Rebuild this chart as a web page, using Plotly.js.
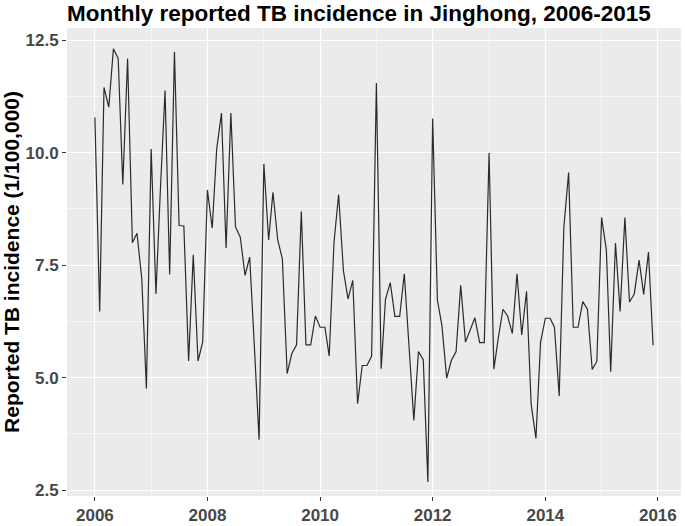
<!DOCTYPE html>
<html>
<head>
<meta charset="utf-8">
<script src="https://cdn.plot.ly/plotly-3.0.1.min.js"></script>
<style>
  html, body { margin: 0; padding: 0; background: #ffffff; }
  #chart { width: 685px; height: 526px; }
</style>
</head>
<body>
<div id="chart"></div>
<script>
// Monthly reported TB incidence (1/100,000), Jinghong, Jan 2006 - Dec 2015
const years = [2006, 2007, 2008, 2009, 2010, 2011, 2012, 2013, 2014, 2015];
const inc2006 = [10.78, 6.47, 11.45, 11.01, 12.31, 12.09, 9.29, 12.09, 8.00, 8.21, 7.20, 4.76];
const inc2007 = [10.08, 6.86, 9.12, 11.38, 7.29, 12.24, 8.38, 8.37, 5.37, 7.73, 5.37, 5.79];
const inc2008 = [9.17, 8.32, 10.08, 10.88, 7.88, 10.88, 8.35, 8.12, 7.27, 7.68, 5.65, 3.62];
const inc2009 = [9.75, 8.06, 9.12, 8.06, 7.64, 5.09, 5.53, 5.73, 8.69, 5.73, 5.73, 6.37];
const inc2010 = [6.12, 6.12, 5.48, 8.01, 9.07, 7.38, 6.75, 7.16, 4.42, 5.27, 5.27, 5.48];
const inc2011 = [11.55, 5.20, 6.74, 7.11, 6.36, 6.36, 7.31, 5.68, 4.05, 5.58, 5.40, 2.68];
const inc2012 = [10.76, 6.72, 6.16, 4.99, 5.38, 5.58, 7.05, 5.79, 6.05, 6.33, 5.78, 5.78];
const inc2013 = [9.99, 5.19, 5.86, 6.52, 6.37, 5.98, 7.31, 5.95, 6.92, 4.40, 3.65, 5.79];
const inc2014 = [6.32, 6.32, 6.12, 4.59, 8.34, 9.56, 6.12, 6.12, 6.69, 6.52, 5.18, 5.36];
const inc2015 = [8.56, 7.83, 5.13, 7.99, 6.47, 8.56, 6.68, 6.86, 7.61, 6.85, 7.79, 5.72];
const yearSeries = [inc2006, inc2007, inc2008, inc2009, inc2010, inc2011, inc2012, inc2013, inc2014, inc2015];

const xTickYears = [2006, 2008, 2010, 2012, 2014, 2016];
const xMinorYears = [2007, 2009, 2011, 2013, 2015];
const yTickVals = [2.5, 5.0, 7.5, 10.0, 12.5];
const yTickText = ['2.5', '5.0', '7.5', '10.0', '12.5'];
const yMinorVals = [3.75, 6.25, 8.75, 11.25];

// Build month dates and values
const dates = [];
const values = [];
years.forEach((yr, i) => {
  yearSeries[i].forEach((v, m) => {
    dates.push(yr + '-' + String(m + 1).padStart(2, '0') + '-01');
    values.push(v);
  });
});

// ggplot-like 5% expansion on the time axis
function iso(ms) { return new Date(ms).toISOString().slice(0, 19).replace('T', ' '); }
const t0 = Date.parse(dates[0] + 'T00:00:00Z');
const t1 = Date.parse(dates[dates.length - 1] + 'T00:00:00Z');
const tSpan = t1 - t0;
const xRange = [iso(t0 - 0.05 * tSpan), iso(t1 + 0.05 * tSpan)];

const trace = {
  type: 'scatter',
  mode: 'lines',
  x: dates,
  y: values,
  line: { color: '#2b2b2b', width: 1.2 },
  hoverinfo: 'x+y'
};

const tickFont = { family: 'Liberation Sans, Arial, sans-serif', size: 17, color: '#474747', weight: 'bold' };

const layout = {
  width: 685,
  height: 526,
  paper_bgcolor: '#ffffff',
  plot_bgcolor: '#ebebeb',
  margin: { l: 67, r: 4, t: 28, b: 30, pad: 0 },
  showlegend: false,
  font: { family: 'Liberation Sans, Arial, sans-serif' },
  title: {
    text: '<b>Monthly reported TB incidence in Jinghong, 2006-2015</b>',
    font: { family: 'Liberation Sans, Arial, sans-serif', size: 22.5, color: '#000000' },
    x: 0, xref: 'paper', xanchor: 'left',
    y: 1, yref: 'container', yanchor: 'top',
    pad: { t: 5, l: 0 }
  },
  xaxis: {
    type: 'date',
    range: xRange,
    tickmode: 'array',
    tickvals: xTickYears.map(y => y + '-01-01'),
    ticktext: xTickYears.map(String),
    ticks: 'outside',
    ticklen: 4,
    tickwidth: 1,
    tickcolor: '#333333',
    tickfont: tickFont,
    showgrid: true,
    gridcolor: '#ffffff',
    gridwidth: 1.1,
    minor: {
      tickmode: 'array',
      tickvals: xMinorYears.map(y => y + '-01-01'),
      showgrid: true,
      gridcolor: '#ffffff',
      gridwidth: 0.55,
      ticks: ''
    },
    zeroline: false,
    showline: false,
    fixedrange: true
  },
  yaxis: {
    range: [2.37, 12.77],
    tickmode: 'array',
    tickvals: yTickVals,
    ticktext: yTickText,
    ticks: 'outside',
    ticklen: 4,
    tickwidth: 1,
    tickcolor: '#333333',
    tickfont: tickFont,
    showgrid: true,
    gridcolor: '#ffffff',
    gridwidth: 1.1,
    minor: {
      tickmode: 'array',
      tickvals: yMinorVals,
      showgrid: true,
      gridcolor: '#ffffff',
      gridwidth: 0.55,
      ticks: ''
    },
    zeroline: false,
    showline: false,
    title: {
      text: '<b>Reported TB incidence (1/100,000)</b>',
      font: { family: 'Liberation Sans, Arial, sans-serif', size: 21, color: '#000000' },
      standoff: 8
    },
    fixedrange: true
  }
};

Plotly.newPlot('chart', [trace], layout, { displayModeBar: false, staticPlot: true });
</script>
</body>
</html>
